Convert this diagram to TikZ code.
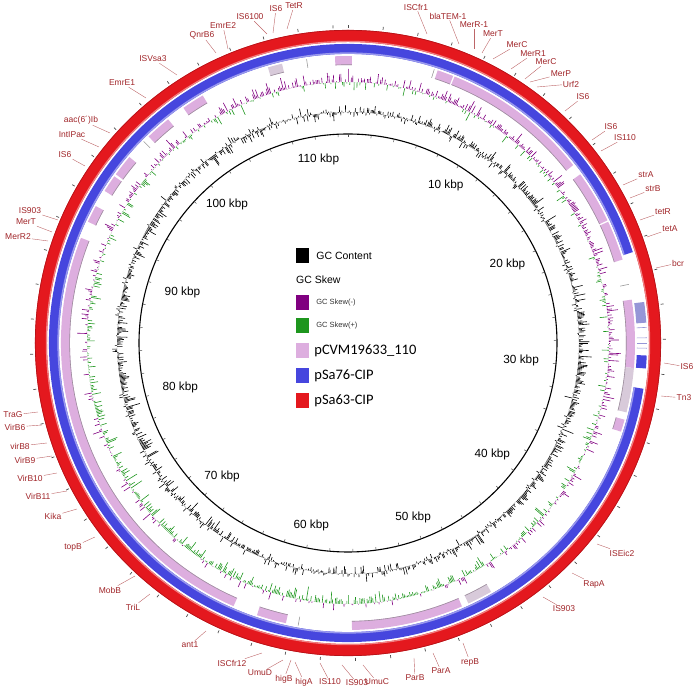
\documentclass[tikz,border=0pt]{standalone}
\usepackage{fontspec}
\setmainfont{Liberation Sans}
\newfontfamily\calib{Carlito}
\usetikzlibrary{positioning,calc}
\definecolor{ringred}{RGB}{228,24,30}
\definecolor{ringblue}{RGB}{70,70,222}
\definecolor{ringpink}{RGB}{221,174,223}
\definecolor{ringgrey}{RGB}{216,202,218}
\definecolor{paleblue}{RGB}{150,150,215}
\definecolor{skewneg}{RGB}{128,0,128}
\definecolor{skewpos}{RGB}{30,150,30}
\definecolor{genered}{RGB}{160,36,40}
\tikzset{gene/.style={text=genered,font=\fontsize{8.5}{10}\selectfont,inner sep=1pt},
  geneline/.style={draw=genered!70,line width=0.4pt},
  kbp/.style={font=\fontsize{11.8}{13}\selectfont,inner sep=1pt},
  pinkseg/.style={ringpink,line width=9pt},
  greyseg/.style={ringgrey,line width=9pt},
  pinkedge/.style={gray!70!ringpink,line width=0.6pt},
  sliver/.style={gray!80,line width=0.6pt},
  spike/.style={line width=0.6pt},
  legbox/.style={minimum width=13pt,minimum height=15pt,inner sep=0pt},
  legtext/.style={font=\fontsize{10.5}{12}\selectfont,inner sep=1pt},
  legsmall/.style={font=\fontsize{7.5}{9}\selectfont,text=black!80,inner sep=1pt},
  legbig/.style={font=\calib\fontsize{14.5}{16}\selectfont,inner sep=1pt}}

\begin{document}
\begin{tikzpicture}[x=1pt,y=1pt]
	\def\rin{209}
	\def\rgc{231}
	\def\rsk{261}
	\def\rpk{282.5}
	\def\rbl{294}
	\def\rrd{307}
	\def\kb{3.19}
	\begin{scope}[y=-1pt,shift={(-348pt,343pt)}]
		\useasboundingbox (0,0) rectangle (696,692);
	\end{scope}
	\draw[ringred,line width=12pt] (0,0) circle (\rrd);
	\draw[ringred!80!black,line width=0.7pt] (0,0) circle (312.7);
	\draw[ringred!55!white,line width=1.2pt] (0,0) circle (301.6);
	\draw[ringblue,line width=10pt] (17.7:\rbl) arc (17.7:351.2:\rbl);
	\draw[ringblue!55!white,line width=1.5pt] (17.7:289.8) arc (17.7:351.2:289.8);
	\draw[paleblue,line width=10pt] (7.9:\rbl) arc (7.9:3.9:\rbl);
	\foreach \a in {3,1,0,-1} \draw[paleblue,line width=0.6pt] (\a:289) -- (\a:299);
	\draw[ringblue,line width=10pt] (-2.4:\rbl) arc (-2.4:-4.9:\rbl);
	\foreach \a/\b in {92.6/89.2,71.8/68.5,68.2/38.3,36/25.3,25/16.9,8.7/-5,-15.5/-18,-66.6/-89.2,-102.5/-108.5,-113.5/-201.5,155/151.5,148/144.5,144/139.6,134/128.8,125/120.4}{
		\draw[pinkseg] (\a:\rpk) arc (\a:\b:\rpk);
		\draw[pinkedge] (\a:278.3) arc (\a:\b:278.3);
	}
	\foreach \a/\b in {-5/-14,-60.1/-65.2,106.2/103.3}{
		\draw[greyseg] (\a:\rpk) arc (\a:\b:\rpk);
		\draw[pinkedge] (\a:278.3) arc (\a:\b:278.3);
	}
	\foreach \a in {72.5,11.8,-100,135.4,98.3} \draw[sliver] (\a:278) -- (\a:287);
	\pgfmathsetseed{7}
	\foreach \a in {0,0.32,...,359.9}{
		\pgfmathsetmacro\s{12*rand*rnd+5*sin(\a+30)*rnd}
		\ifdim\s pt>0pt \draw[skewneg,spike] (\a:\rsk) -- (\a:{\rsk+\s});
		\else \draw[skewpos,spike] (\a:\rsk) -- (\a:{\rsk+\s}); \fi
	}
	\foreach \a in {0,0.3,...,359.9}{
		\pgfmathsetmacro\h{10*rand*rnd+7*cos(\a)*rnd}
		\draw[black,spike] (\a:\rgc) -- (\a:{\rgc+\h});
	}
	\draw[line width=1.1pt] (0,0) circle (\rin);
	\foreach \k in {0,2,...,112}{
		\draw[black!70,line width=0.5pt] ({90-\kb*\k}:\rin) -- ({90-\kb*\k}:{\rin-3});
		\draw[black!70,line width=0.7pt] ({90-\kb*\k}:315) -- ({90-\kb*\k}:318);
	}
	\foreach \k in {10,20,...,110}{
		\pgfmathsetmacro\ang{mod(450-\kb*\k,360)}
		\node[kbp,anchor=\ang] (k\k) at (\ang:193) {\k\ kbp};
	}
	\begin{scope}[y=-1pt,shift={(-348pt,343pt)}]
		\node[legbox,fill=black] (lk) at (302.5,255.5) {};
		\node[legtext,right=6pt of lk] (lkt) {GC Content};
		\node[legtext,anchor=west] (lsk) at (295,280) {GC Skew};
		\node[legbox,fill=skewneg] (lneg) at (302.5,302.5) {};
		\node[legsmall,right=6pt of lneg] (lnegt) {GC Skew(-)};
		\node[legbox,fill=skewpos] (lpos) at (302.5,325.5) {};
		\node[legsmall,right=6pt of lpos] (lpost) {GC Skew(+)};
		\node[legbox,fill=ringpink] (lp1) at (302.5,351) {};
		\node[legbig,right=4pt of lp1] (lp1t) {pCVM19633\_110};
		\node[legbox,fill=ringblue] (lp2) at (302.5,375.5) {};
		\node[legbig,right=4pt of lp2] (lp2t) {pSa76-CIP};
		\node[legbox,fill=ringred] (lp3) at (302.5,400.5) {};
		\node[legbig,right=4pt of lp3] (lp3t) {pSa63-CIP};
		\foreach \x/\y/\ex/\ey/\t [count=\i] in {294/6/287/29/TetR,276/9/273/33/IS6,250/17/267/34/IS6100,
			223/26/228/49/EmrE2,202/35/216/53/QnrB6,153/59/177/75/ISVsa3,122/83/146/98/EmrE1,
			81/120/110/133/aac(6´)Ib,72/135/99/147/IntIPac,65/155/85/166/IS6,30/211/58/220/IS903,
			26/222/52/232/MerT,18/237/48/241/MerR2,13/415/38/412/TraG,15/427/42/425/VirB6,
			20/446/47/443/virB8,25/460/52/456/VirB9,30/478/57/473/VirB10,38/496/67/491/VirB11,
			53/516/77/509/Kika,73/547/95/537/topB,110/590/135/576/MobB,133/607/150/594/TriL,
			190/645/206/631/ant1,232/663/262/653/ISCfr12,260/673/283/660/UmuD,284/679/291/660/higB,
			304/682/295/662/higA,330/682/320/663/IS110,357/683/342/665/IS903,377/682/363/665/UmuC,
			415/678/414/658/ParB,441/671/433/653/ParA,470/662/463/643/repB,564/609/543/597/IS903,
			594/584/572/573/RapA,622/553/597/544/ISEic2,684/398/661/396/Tn3,687/367/664/363/IS6,
			678/263/656/268/bcr,670/229/647/237/tetA,663/212/640/220/tetR,653/189/630/198/strB,
			646/175/623/185/strA,625/138/601/151/IS110,611/127/592/140/IS6,583/97/565/111/IS6,
			571/84/537/87/Urf2,561/74/530/82/MerP,546/62/525/79/MerC,533/54/511/69/MerR1,
			517/45/493/59/MerC,493/34/482/53/MerT,474/25/474/49/MerR-1,448/16/459/44/blaTEM-1,
			416/7/427/34/ISCfr1}{
			\node[gene] (g\i) at (\x,\y) {\t};
			\coordinate (e\i) at (\ex,\ey);
			\draw[geneline] (g\i) -- (e\i);
		}
	\end{scope}
\end{tikzpicture}
\end{document}
